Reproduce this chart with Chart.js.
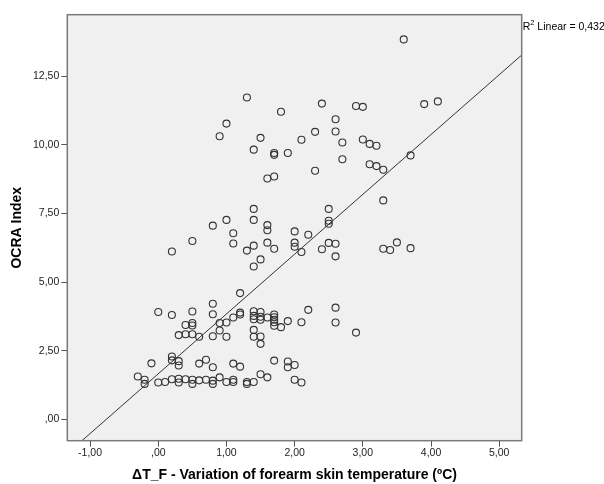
<!DOCTYPE html>
<html>
<head>
<meta charset="utf-8">
<script src="https://cdn.jsdelivr.net/npm/chart.js@4/dist/chart.umd.min.js"></script>
<style>
  html, body { margin: 0; padding: 0; background: #ffffff; }
  #wrap { width: 604px; height: 484px; }
</style>
</head>
<body>
<div id="wrap"><canvas id="c" width="604" height="484"></canvas></div>
<script>
// ---- data ----
const xValues = [
  // upper cluster
  3.6,1.3,2.4,2.9,3.0,3.9,4.1,1.8,2.6,1.0, 0.9,1.5,2.3,2.6,2.1,2.7,3.0,3.1,3.2,1.4,
  1.7,1.7,1.9,3.7,2.7,3.1,3.2,3.3,2.3,1.6, 1.7,3.3,1.4,2.5,1.0,1.4,2.5,2.5,0.8,1.6,
  1.6,1.1,2.0,2.2,0.5,1.1,1.6,1.4,2.0,2.5, 2.6,2.0,1.7,1.3,0.2,2.1,2.4,3.3,3.4,3.5,
  3.7,2.6,1.5,1.4,
  // middle cluster
  1.2,0.8,0.0,0.5,0.2,0.8,2.6,2.2,1.2,1.2, 1.4,1.5,1.4,1.5,1.4,1.5,1.7,1.7,1.7,1.7,
  1.7,1.6,1.1,1.8,1.9,2.1,2.6,1.0,0.9,0.5, 0.5,0.4,0.9,1.4,0.4,0.5,0.3,0.6,0.8,1.0,
  1.4,1.5,1.5,2.9,
  // ~2 cluster
  0.2,0.2,0.3,0.3,-0.1,0.7,0.6,0.8,1.1,1.2,1.7,1.9,1.9,2.0,
  // lowest cluster
  -0.3,-0.2,-0.2,0.0,0.1,0.2,0.3,0.3,0.4,0.5, 0.5,0.6,0.7,0.8,0.8,0.9,1.0,1.1,1.1,1.3,
  1.3,1.4,1.5,1.6,2.0,2.1
];
const yValues = [
  13.85,11.73,11.51,11.42,11.39,11.49,11.59,11.21,10.94,10.78, 10.32,10.26,10.48,10.49,10.19,10.09,10.20,10.04,9.97,9.83,
  9.71,9.64,9.71,9.62,9.48,9.30,9.23,9.10,9.06,8.78, 8.85,7.98,7.67,7.67,7.27,7.27,7.24,7.13,7.06,7.08,
  6.89,6.78,6.85,6.73,6.50,6.41,6.44,6.33,6.44,6.43, 6.40,6.29,6.22,6.15,6.12,6.10,6.20,6.22,6.17,6.45,
  6.24,5.94,5.83,5.57,
  4.60,4.21,3.91,3.93,3.80,3.83,4.07,3.99,3.89,3.82, 3.94,3.91,3.77,3.74,3.65,3.63,3.82,3.72,3.63,3.54,
  3.41,3.71,3.71,3.36,3.58,3.54,3.53,3.53,3.51,3.51, 3.42,3.44,3.24,3.26,3.10,3.10,3.07,3.01,3.03,3.01,
  3.01,3.02,2.75,3.16,
  2.29,2.15,2.12,1.96,2.04,2.17,2.03,1.90,2.03,1.92,2.14,2.11,1.90,1.98,
  1.56,1.44,1.29,1.34,1.36,1.46,1.48,1.34,1.46,1.44, 1.29,1.42,1.44,1.41,1.29,1.53,1.36,1.44,1.36,1.36,
  1.29,1.36,1.64,1.53,1.44,1.34
];
// linear fit line (intercept, slope) and R²
const fitLine = [1.66, 2.18];
const rSquared = '0,432';

const xTickValues = [-1, 0, 1, 2, 3, 4, 5];
const xTickLabels = ['-1,00', ',00', '1,00', '2,00', '3,00', '4,00', '5,00'];
const yTickValues = [0, 2.5, 5, 7.5, 10, 12.5];
const yTickLabels = [',00', '2,50', '5,00', '7,50', '10,00', '12,50'];
const xRange = [-1.334, 5.33];
const yRange = [-0.78, 14.75];

const xTitle = 'ΔT_F - Variation of forearm skin temperature (ºC)';
const yTitle = 'OCRA Index';

// ---- chart ----
const FONT = '"Liberation Sans", Arial, sans-serif';
const points = xValues.map((x, i) => ({ x: x, y: yValues[i] }));
const lineData = xRange.map(x => ({ x: x, y: fitLine[0] + fitLine[1] * x }));

const framePlugin = {
  id: 'frame',
  beforeDatasetsDraw(chart) {
    const { ctx, chartArea: a } = chart;
    ctx.save();
    ctx.fillStyle = '#f0f0f0';
    ctx.fillRect(a.left, a.top, a.right - a.left, a.bottom - a.top);
    ctx.restore();
  },
  afterDraw(chart) {
    const { ctx, chartArea: a } = chart;
    ctx.save();
    ctx.strokeStyle = '#7a7a7a';
    ctx.lineWidth = 1.5;
    ctx.strokeRect(a.left, a.top, a.right - a.left, a.bottom - a.top);
    // R² label
    ctx.fillStyle = '#000';
    ctx.textBaseline = 'alphabetic';
    ctx.textAlign = 'left';
    let x = a.right + 1;
    const y = 29.5;
    ctx.font = '10.5px ' + FONT;
    ctx.fillText('R', x, y);
    x += ctx.measureText('R').width;
    ctx.font = '7.5px ' + FONT;
    ctx.fillText('2', x, y - 4.5);
    x += ctx.measureText('2').width;
    ctx.font = '10.5px ' + FONT;
    ctx.fillText(' Linear = ' + rSquared, x, y);
    ctx.restore();
  }
};

new Chart(document.getElementById('c'), {
  type: 'scatter',
  data: {
    datasets: [
      {
        data: points,
        pointRadius: 3.5,
        pointBorderWidth: 1.1,
        pointBackgroundColor: 'rgba(0,0,0,0)',
        pointBorderColor: '#333333',
        order: 1
      },
      {
        type: 'line',
        data: lineData,
        borderColor: '#333333',
        borderWidth: 1,
        pointRadius: 0,
        fill: false,
        order: 2
      }
    ]
  },
  plugins: [framePlugin],
  options: {
    responsive: false,
    devicePixelRatio: 1,
    animation: false,
    layout: { padding: { top: 14.7, right: 82.3, bottom: 0, left: 0 } },
    plugins: { legend: { display: false }, tooltip: { enabled: false } },
    scales: {
      x: {
        type: 'linear',
        min: xRange[0], max: xRange[1],
        afterFit(s) { s.height = 43.3; },
        afterBuildTicks(s) { s.ticks = xTickValues.map(v => ({ value: v })); },
        border: { display: false },
        grid: { drawOnChartArea: false, drawTicks: true, tickLength: 6, tickColor: '#555', tickWidth: 1 },
        ticks: {
          padding: 0.5,
          color: '#222',
          font: { family: FONT, size: 10.5 },
          callback(v) { const i = xTickValues.indexOf(v); return i >= 0 ? xTickLabels[i] : ''; }
        },
        title: {
          display: true, text: xTitle, color: '#000',
          font: { family: FONT, size: 14, weight: 'bold' },
          padding: { top: 0, bottom: 0.5 }
        }
      },
      y: {
        type: 'linear',
        min: yRange[0], max: yRange[1],
        afterFit(s) { s.width = 67.3; },
        afterBuildTicks(s) { s.ticks = yTickValues.map(v => ({ value: v })); },
        border: { display: false },
        grid: { drawOnChartArea: false, drawTicks: true, tickLength: 6, tickColor: '#555', tickWidth: 1 },
        ticks: {
          padding: 2,
          color: '#222',
          font: { family: FONT, size: 10.5 },
          callback(v) { const i = yTickValues.indexOf(v); return i >= 0 ? yTickLabels[i] : ''; }
        },
        title: {
          display: true, text: yTitle, color: '#000',
          font: { family: FONT, size: 14, weight: 'bold' },
          padding: { top: 8.6, bottom: 0 }
        }
      }
    }
  }
});
</script>
</body>
</html>
